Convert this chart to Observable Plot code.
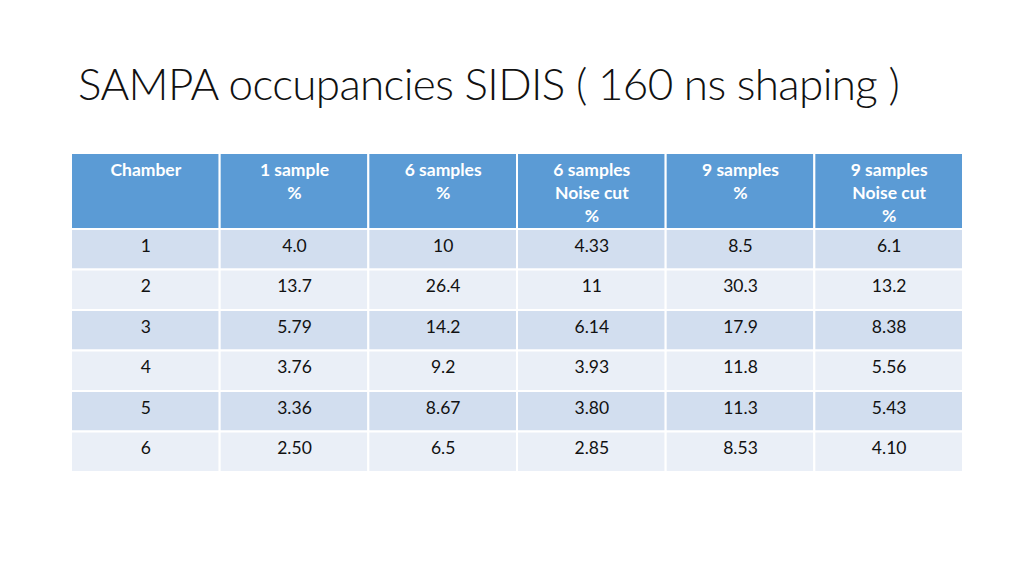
<!DOCTYPE html>
<html>
<head>
<meta charset="utf-8">
<script src="https://cdn.jsdelivr.net/npm/d3@7"></script>
<script src="https://cdn.jsdelivr.net/npm/@observablehq/plot@0.6"></script>
<style>
  html, body { margin: 0; padding: 0; background: #fff; }
  #wrap { width: 1024px; height: 576px; overflow: hidden; }
  #title {
    height: 130px; box-sizing: border-box; padding-left: 78px; padding-top: 57px;
    font-family: Lato, "Open Sans", sans-serif; font-weight: 300; font-size: 44px;
    letter-spacing: -0.65px;
    line-height: 52px; color: #111; white-space: nowrap;
  }
  svg { display: block; }
</style>
</head>
<body>
<div id="wrap">
  <div id="title">SAMPA occupancies SIDIS ( 160 ns shaping )</div>
  <div id="chart"></div>
</div>
<script>
const columns = ["Chamber", "1 sample\n%", "6 samples\n%", "6 samples\nNoise cut\n%", "9 samples\n%", "9 samples\nNoise cut\n%"];
const chambers = ["1", "2", "3", "4", "5", "6"];
const oneSample = ["4.0", "13.7", "5.79", "3.76", "3.36", "2.50"];
const sixSamples = ["10", "26.4", "14.2", "9.2", "8.67", "6.5"];
const sixNoiseCut = ["4.33", "11", "6.14", "3.93", "3.80", "2.85"];
const nineSamples = ["8.5", "30.3", "17.9", "11.8", "11.3", "8.53"];
const nineNoiseCut = ["6.1", "13.2", "8.38", "5.56", "5.43", "4.10"];

const series = [chambers, oneSample, sixSamples, sixNoiseCut, nineSamples, nineNoiseCut];
const headerH = 1.877; // header height in row units

const headerCells = columns.map((label, ci) => ({ci, label}));
const bodyCells = [];
series.forEach((vals, ci) => vals.forEach((v, ri) => bodyCells.push({ci, ri, v})));

const font = "Lato, 'Open Sans', sans-serif";

const chart = Plot.plot({
  width: 1024,
  height: 446,
  marginTop: 23,
  marginBottom: 104,
  marginLeft: 71,
  marginRight: 61,
  x: {domain: [0, columns.length], axis: null},
  y: {domain: [0, headerH + chambers.length], reverse: true, axis: null},
  style: {fontFamily: font, background: "white"},
  marks: [
    Plot.rect(headerCells, {
      x1: d => d.ci, x2: d => d.ci + 1, y1: 0, y2: headerH,
      fill: "#5B9BD5", stroke: "white", strokeWidth: 2
    }),
    Plot.rect(bodyCells, {
      x1: d => d.ci, x2: d => d.ci + 1,
      y1: d => headerH + d.ri, y2: d => headerH + d.ri + 1,
      fill: d => d.ri % 2 === 0 ? "#D2DEEF" : "#EAEFF7",
      stroke: "white", strokeWidth: 2
    }),
    Plot.text(headerCells, {
      x: d => d.ci + 0.5, y: 0, text: "label",
      lineAnchor: "top", dy: 6, lineHeight: 1.32,
      fill: "white", fontWeight: "bold", fontSize: 17.5, fontFamily: font
    }),
    Plot.text(bodyCells, {
      x: d => d.ci + 0.5, y: d => headerH + d.ri + 0.5, text: "v",
      lineAnchor: "middle", dy: -3.5,
      fill: "#111", fontSize: 17.5, fontFamily: font
    })
  ]
});
document.getElementById("chart").appendChild(chart);
</script>
</body>
</html>
